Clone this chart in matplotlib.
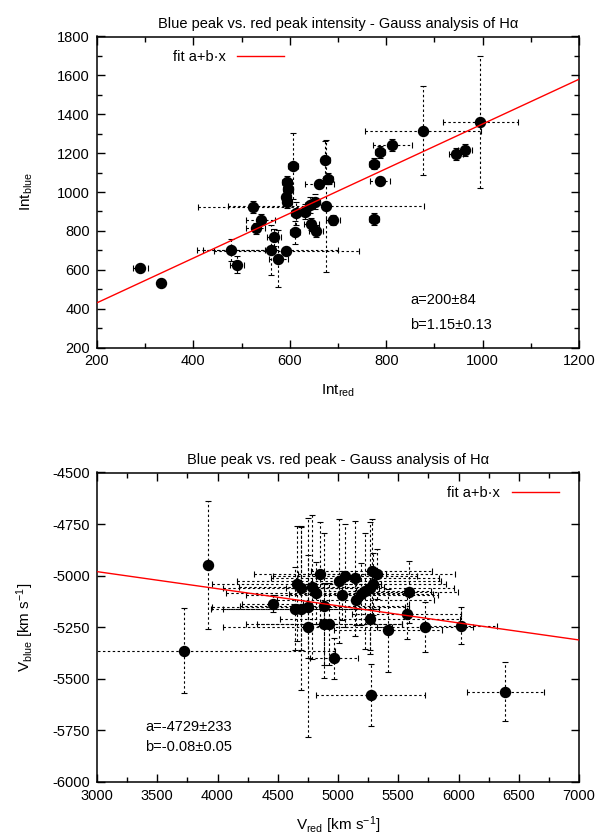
import numpy as np
import matplotlib
matplotlib.use("Agg")
import matplotlib.pyplot as plt
from matplotlib.ticker import MultipleLocator

plt.rcParams["font.family"] = ["Liberation Sans", "DejaVu Sans"]
plt.rcParams["mathtext.fontset"] = "custom"
plt.rcParams["mathtext.rm"] = "Liberation Sans"
plt.rcParams["mathtext.it"] = "Liberation Sans:italic"
plt.rcParams["axes.unicode_minus"] = False

# ---- top panel: peak intensities ----
int_red = [290, 333, 478, 490, 524, 540, 529, 567, 560, 576, 593, 606, 594, 596,
           593, 595, 612, 611, 632, 642, 652, 645, 654, 661, 674, 679, 675, 690,
           775, 787, 775, 787, 813, 876, 995, 945, 964]
int_blue = [610, 534, 702, 626, 923, 858, 813, 767, 702, 657, 697, 1134, 1053, 1016,
            976, 950, 891, 793, 899, 933, 950, 834, 801, 1040, 1165, 1069, 930, 855,
            860, 1057, 1146, 1207, 1242, 1315, 1360, 1196, 1215]
int_red_err = [15, 5, 70, 15, 115, 30, 20, 15, 140, 20, 150, 10, 10, 10,
               10, 10, 10, 10, 10, 10, 10, 15, 15, 30, 10, 10, 203, 15,
               10, 20, 10, 10, 40, 120, 78, 15, 15]
int_blue_err = [15, 5, 55, 45, 30, 30, 30, 45, 129, 147, 20, 168, 30, 30,
                30, 30, 60, 60, 40, 40, 40, 30, 30, 20, 95, 30, 340, 25,
                30, 20, 30, 30, 30, 230, 340, 30, 30]
fit1_a, fit1_b = 200, 1.15

# ---- bottom panel: peak velocities ----
v_red = [3724, 3924, 4457, 4656, 4693, 4781, 4817, 4851, 5008, 5058, 5141, 5033,
         5146, 5191, 5224, 5266, 5293, 5279, 5320, 5592, 4643, 4693, 4753, 4886,
         5569, 5266, 4747, 4884, 4927, 5417, 5722, 6017, 6388, 4970, 5270]
v_blue = [-5363, -4948, -5136, -5039, -5060, -5055, -5082, -4992, -5027, -5000, -5013, -5095,
          -5118, -5087, -5073, -5060, -5042, -4977, -4992, -5080, -5160, -5161, -5150, -5145,
          -5186, -5208, -5250, -5234, -5235, -5265, -5249, -5242, -5562, -5400, -5580]
v_red_err = [1250, 30, 250, 700, 650, 600, 750, 550, 850, 600, 700, 800,
             650, 600, 550, 700, 600, 500, 650, 400, 700, 650, 800, 700,
             450, 750, 700, 650, 600, 450, 400, 300, 318, 200, 450]
v_blue_err = [208, 311, 40, 280, 300, 350, 150, 250, 300, 250, 280, 120,
              120, 150, 280, 320, 150, 250, 120, 150, 200, 395, 250, 350,
              120, 150, 531, 200, 200, 200, 120, 89, 142, 100, 150]
fit2_a, fit2_b = -4732, -0.0828

W, H = 601, 839
fig = plt.figure(figsize=(W / 100, H / 100), dpi=100)


def px_axes(left, top, right, bottom):
    return fig.add_axes([left / W, 1 - bottom / H, (right - left) / W, (bottom - top) / H])


def style(ax):
    for s in ax.spines.values():
        s.set_linewidth(1.1)
    ax.tick_params(which="both", direction="in", top=True, right=True,
                   labelsize=10.5, pad=5, width=1.0)
    ax.tick_params(which="major", length=6)
    ax.tick_params(which="minor", length=3.5)


ebar = dict(fmt="o", color="black", ms=7.2, ecolor="black", elinewidth=0.8,
            capsize=2.5, capthick=0.8, zorder=3)

# top
ax1 = px_axes(97, 36.5, 579, 347.5)
eb = ax1.errorbar(int_red, int_blue, xerr=int_red_err, yerr=int_blue_err, **ebar)
for c in eb[2]:
    c.set_linestyle((0, (2.2, 2.2)))
xx = np.array([200, 1200])
ax1.plot(xx, fit1_a + fit1_b * xx, color="#ff0000", lw=1.0, zorder=4,
         label="fit a+b\u00b7x")
ax1.set_xlim(200, 1200)
ax1.set_ylim(200, 1800)
ax1.xaxis.set_major_locator(MultipleLocator(200))
ax1.xaxis.set_minor_locator(MultipleLocator(100))
ax1.yaxis.set_major_locator(MultipleLocator(200))
ax1.yaxis.set_minor_locator(MultipleLocator(100))
style(ax1)
ax1.set_xlabel(r"Int$_{\rm red}$", fontsize=11, labelpad=10)
ax1.set_ylabel(r"Int$_{\rm blue}$", fontsize=11, labelpad=16)
ax1.legend(loc="upper left", bbox_to_anchor=(0.13, 1.0), frameon=False,
           markerfirst=False, fontsize=10.5, handlelength=3.2)
ax1.text(0.65, 0.14, "a=200\u00b184", transform=ax1.transAxes, fontsize=10.5)
ax1.text(0.65, 0.06, "b=1.15\u00b10.13", transform=ax1.transAxes, fontsize=10.5)
ax1.set_title("Blue peak vs. red peak intensity - Gauss analysis of H\u03b1",
              fontsize=10.5, pad=6)

# bottom
ax2 = px_axes(97, 472.5, 579, 782)
eb = ax2.errorbar(v_red, v_blue, xerr=v_red_err, yerr=v_blue_err, **ebar)
for c in eb[2]:
    c.set_linestyle((0, (2.2, 2.2)))
xx = np.array([3000, 7000])
ax2.plot(xx, fit2_a + fit2_b * xx, color="#ff0000", lw=1.0, zorder=4,
         label="fit a+b\u00b7x")
ax2.set_xlim(3000, 7000)
ax2.set_ylim(-6000, -4500)
ax2.xaxis.set_major_locator(MultipleLocator(500))
ax2.xaxis.set_minor_locator(MultipleLocator(250))
ax2.yaxis.set_major_locator(MultipleLocator(250))
style(ax2)
ax2.set_xlabel(r"V$_{\rm red}$ [km s$^{-1}$]", fontsize=11, labelpad=8)
ax2.set_ylabel(r"V$_{\rm blue}$ [km s$^{-1}$]", fontsize=11, labelpad=12)
ax2.legend(loc="upper right", bbox_to_anchor=(0.985, 1.0), frameon=False,
           markerfirst=False, fontsize=10.5, handlelength=3.2)
ax2.text(0.1, 0.165, "a=-4729\u00b1233", transform=ax2.transAxes, fontsize=10.5)
ax2.text(0.1, 0.10, "b=-0.08\u00b10.05", transform=ax2.transAxes, fontsize=10.5)
ax2.set_title("Blue peak vs. red peak - Gauss analysis of H\u03b1",
              fontsize=10.5, pad=6)

fig.savefig("out.png", dpi=100)
